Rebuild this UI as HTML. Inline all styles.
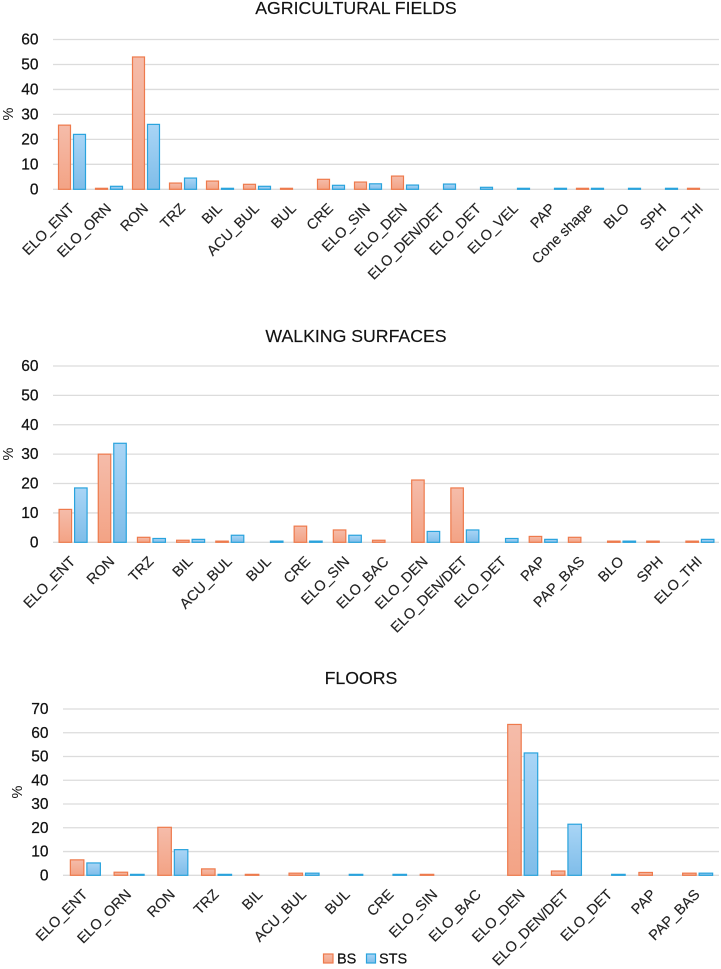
<!DOCTYPE html>
<html>
<head>
<meta charset="utf-8">
<style>
html,body{margin:0;padding:0;background:#fff;}
svg{display:block;font-family:"Liberation Sans",Arial,sans-serif;filter:blur(0.35px);}
</style>
</head>
<body>
<svg id="chart" width="721" height="969" viewBox="0 0 721 969" xmlns="http://www.w3.org/2000/svg">
<defs>
<linearGradient id="gradBS" x1="0" y1="0" x2="0" y2="1"><stop offset="0" stop-color="#f5bcaa"/><stop offset="1" stop-color="#f3a385"/></linearGradient>
<linearGradient id="gradSTS" x1="0" y1="0" x2="0" y2="1"><stop offset="0" stop-color="#a9d5f6"/><stop offset="1" stop-color="#7fbde9"/></linearGradient>
</defs>
<g>
<rect x="323.5" y="954" width="9.5" height="9" fill="url(#gradBS)" stroke="#ee7a4c" stroke-width="1.2"/>
<text x="337" y="963.5" font-size="14.5" fill="#111" stroke="#111" stroke-width="0.2">BS</text>
<rect x="366.5" y="954" width="9" height="9" fill="url(#gradSTS)" stroke="#29a3dd" stroke-width="1.2"/>
<text x="379" y="963.5" font-size="14.5" fill="#111" stroke="#111" stroke-width="0.2">STS</text>
</g>
</svg>
<script>
const fieldsCategories = ["ELO_ENT","ELO_ORN","RON","TRZ","BIL","ACU_BUL","BUL","CRE","ELO_SIN","ELO_DEN","ELO_DEN/DET","ELO_DET","ELO_VEL","PAP","Cone shape","BLO","SPH","ELO_THI"];
const fieldsBS = [25.7,0.4,53,2.5,3.3,2,0.4,4,2.9,5.3,0,0,0,0,0.4,0,0,0.4];
const fieldsSTS = [22,1.2,26,4.5,0.4,1.2,0,1.6,2.2,1.7,2.1,0.8,0.4,0.4,0.4,0.4,0.4,0];
const fieldsTicks = [0,10,20,30,40,50,60];

const walkingCategories = ["ELO_ENT","RON","TRZ","BIL","ACU_BUL","BUL","CRE","ELO_SIN","ELO_BAC","ELO_DEN","ELO_DEN/DET","ELO_DET","PAP","PAP_BAS","BLO","SPH","ELO_THI"];
const walkingBS = [11.2,30,1.7,0.7,0.4,0,5.5,4.2,0.7,21.2,18.5,0,2,1.7,0.4,0.4,0.4];
const walkingSTS = [18.5,33.7,1.3,1,2.4,0.4,0.4,2.4,0,3.7,4.2,1.3,1,0,0.4,0,1];
const walkingTicks = [0,10,20,30,40,50,60];

const floorsCategories = ["ELO_ENT","ELO_ORN","RON","TRZ","BIL","ACU_BUL","BUL","CRE","ELO_SIN","ELO_BAC","ELO_DEN","ELO_DEN/DET","ELO_DET","PAP","PAP_BAS"];
const floorsBS = [6.5,1.3,20.2,2.7,0.4,0.9,0,0,0.4,0,63.5,1.8,0,1.2,0.9];
const floorsSTS = [5.2,0.4,10.8,0.4,0,0.9,0.4,0.4,0,0,51.5,21.5,0.4,0,0.9];
const floorsTicks = [0,10,20,30,40,50,60,70];

const SVG_NS = "http://www.w3.org/2000/svg";
const root = document.getElementById("chart");

function make(tag, attrs, parent) {
  const el = document.createElementNS(SVG_NS, tag);
  for (const k in attrs) el.setAttribute(k, attrs[k]);
  parent.appendChild(el);
  return el;
}

function drawPanel(cfg) {
  const panel = make("g", {}, root);
  
  

  const maxTick = cfg.ticks[cfg.ticks.length - 1];
  const yScale = v => cfg.y0 - (v / maxTick) * (cfg.y0 - cfg.yTop);
  const band = (cfg.x1 - cfg.x0) / cfg.categories.length;
  const xCenter = i => cfg.x0 + band * (i + 0.5);

  const title = make("text", {x: cfg.titleX, y: cfg.titleY, "text-anchor": "middle", "font-size": 17.7, fill: "#111", stroke: "#111", "stroke-width": 0.15}, panel);
  
  
  title.textContent = cfg.title;

  const yTitle = make("text", {transform: "translate(" + cfg.yTitleX + "," + cfg.yTitleY + ") rotate(-90)", "text-anchor": "middle", "font-size": 14.5, fill: "#111"}, panel);
  
  
  yTitle.textContent = "%";

  cfg.ticks.forEach(t => {
    const line = make("line", {x1: cfg.x0, x2: cfg.x1, y1: yScale(t), y2: yScale(t), stroke: "#dcdcdc", "stroke-width": 1.3}, panel);
    
    
    const label = make("text", {x: cfg.x0 - 14.5, y: yScale(t) + 5, "text-anchor": "end", "font-size": 15.5, fill: "#111", stroke: "#111", "stroke-width": 0.25}, panel);
    
    
    label.textContent = t;
  });

  cfg.categories.forEach((c, i) => {
    const cx = xCenter(i);
    const pairs = [
      {v: cfg.bs[i], x: cx - 1 - cfg.barW, fill: "url(#gradBS)", stroke: "#ee7a4c"},
      {v: cfg.sts[i], x: cx + 2, fill: "url(#gradSTS)", stroke: "#29a3dd"}
    ];
    pairs.forEach((p, s) => {
      if (p.v <= 0) return;
      const bar = make("rect", {x: p.x, y: yScale(p.v), width: cfg.barW, height: cfg.y0 - yScale(p.v), fill: p.fill, stroke: p.stroke, "stroke-width": 1.2}, panel);
      
      
    });
    const lx = cx + 3.5;
    const ly = cfg.y0 + 20;
    const tick = make("text", {transform: "translate(" + lx + "," + ly + ") rotate(-45)", "text-anchor": "end", "font-size": 14.5, fill: "#222", stroke: "#222", "stroke-width": 0.15}, panel);
    
    
    tick.textContent = c;
  });
}

drawPanel({title: "AGRICULTURAL FIELDS", titleX: 356, titleY: 14, categories: fieldsCategories, bs: fieldsBS, sts: fieldsSTS, ticks: fieldsTicks, x0: 53, x1: 719, yTop: 39.5, y0: 189.3, barW: 12, yTitleX: 13, yTitleY: 114});
drawPanel({title: "WALKING SURFACES", titleX: 356, titleY: 342, categories: walkingCategories, bs: walkingBS, sts: walkingSTS, ticks: walkingTicks, x0: 53, x1: 719, yTop: 366, y0: 542.3, barW: 12.5, yTitleX: 13, yTitleY: 454});
drawPanel({title: "FLOORS", titleX: 361, titleY: 684, categories: floorsCategories, bs: floorsBS, sts: floorsSTS, ticks: floorsTicks, x0: 63, x1: 719, yTop: 709, y0: 875.3, barW: 13.5, yTitleX: 22, yTitleY: 792});
</script>
</body>
</html>
